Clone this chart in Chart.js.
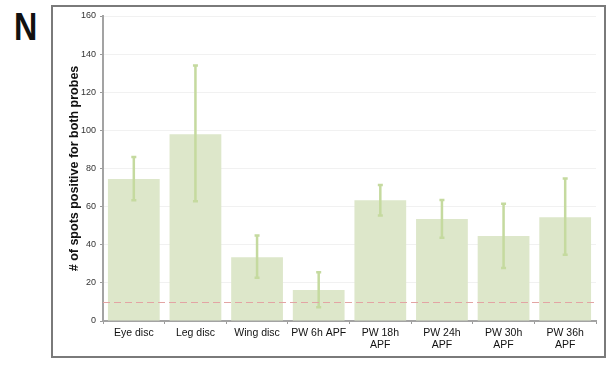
<!DOCTYPE html>
<html>
<head>
<meta charset="utf-8">
<script src="https://cdn.jsdelivr.net/npm/chart.js@4.4.1/dist/chart.umd.min.js"></script>
<style>
  html, body { margin: 0; padding: 0; background: #fff; }
  #wrap { position: relative; width: 609px; height: 367px; overflow: hidden; }
  #panel { position: absolute; left: 51px; top: 5px; width: 551px; height: 349px;
           border: 2px solid #7a7a7a; }
  #letter { position: absolute; left: 14px; top: 5px; font: bold 38px "Liberation Sans", Arial, sans-serif;
            line-height: 44px; color: #111; transform: scaleX(0.85); transform-origin: left top; }
  canvas { position: absolute; left: 0; top: 0; }
</style>
</head>
<body>
<div id="wrap">
  <div id="panel"></div>
  <div id="letter">N</div>
  <canvas id="c" width="609" height="367"></canvas>
</div>
<script>
// Tissues / pupal wing stages
const categories = [
  'Eye disc', 'Leg disc', 'Wing disc', 'PW 6h APF',
  ['PW 18h', 'APF'], ['PW 24h', 'APF'], ['PW 30h', 'APF'], ['PW 36h', 'APF']
];
// Mean number of double-positive spots
const meanSpots = [74.5, 98, 33.5, 16.3, 63.3, 53.5, 44.6, 54.4];
// Error bar limits
const errUpper = [86, 134, 44.8, 25.6, 71.4, 63.5, 61.5, 74.7];
const errLower = [63.3, 62.8, 22.7, 7.2, 55.3, 43.7, 27.8, 34.8];
// Background threshold (dashed line)
const threshold = 10;
const yTicks = [0, 20, 40, 60, 80, 100, 120, 140, 160];

const barColor = '#dde7ca';
const errColor = '#c5da9f';

const errorBarPlugin = {
  id: 'errorBars',
  afterDatasetsDraw(chart) {
    const ctx = chart.ctx;
    const y = chart.scales.y;
    const meta = chart.getDatasetMeta(0);
    ctx.save();
    ctx.strokeStyle = errColor;
    ctx.lineWidth = 2.5;
    meta.data.forEach((bar, i) => {
      const x = bar.x;
      const yHi = y.getPixelForValue(errUpper[i]);
      const yLo = y.getPixelForValue(errLower[i]);
      ctx.beginPath();
      ctx.moveTo(x, yHi); ctx.lineTo(x, yLo);
      ctx.moveTo(x - 2.5, yHi); ctx.lineTo(x + 2.5, yHi);
      ctx.moveTo(x - 2.5, yLo); ctx.lineTo(x + 2.5, yLo);
      ctx.stroke();
    });
    // threshold line
    const ty = Math.round(y.getPixelForValue(threshold)) + 0.5;
    ctx.strokeStyle = '#e3a4a4';
    ctx.lineWidth = 1;
    ctx.setLineDash([7, 4]);
    ctx.beginPath();
    ctx.moveTo(chart.chartArea.left, ty);
    ctx.lineTo(chart.chartArea.right, ty);
    ctx.stroke();
    ctx.restore();
  }
};

new Chart(document.getElementById('c'), {
  type: 'bar',
  data: {
    labels: categories,
    datasets: [{
      data: meanSpots,
      backgroundColor: barColor,
      borderWidth: 0,
      categoryPercentage: 1,
      barPercentage: 0.84
    }]
  },
  options: {
    responsive: false,
    animation: false,
    devicePixelRatio: 1,
    layout: { padding: { left: 55, top: 16, right: 13, bottom: 10 } },
    plugins: { legend: { display: false }, tooltip: { enabled: false } },
    scales: {
      x: {
        afterFit(s) { s.height = 36; },
        grid: { offset: true, drawOnChartArea: false, drawTicks: true, tickLength: 3, tickColor: '#9a9a9a' },
        border: { color: '#a3a3a3', width: 2 },
        ticks: { color: '#111', padding: 3, maxRotation: 0, autoSkip: false,
                 font: { family: '"Liberation Sans", Arial, sans-serif', size: 10.5, lineHeight: 1.12 } }
      },
      y: {
        min: 0, max: 160,
        afterFit(s) { s.width = 48; },
        afterBuildTicks(s) { s.ticks = yTicks.map(v => ({ value: v })); },
        grid: { color: '#f1f1f1', lineWidth: 1, tickLength: 3, tickColor: '#9a9a9a' },
        border: { color: '#a3a3a3', width: 2 },
        ticks: { color: '#333', padding: 4,
                 font: { family: '"Liberation Sans", Arial, sans-serif', size: 9 } },
        title: {
          display: true,
          text: '# of spots positive for both probes',
          color: '#111',
          padding: { top: 12, bottom: 0 },
          font: { family: '"Liberation Sans", Arial, sans-serif', size: 12.5, weight: 'bold' }
        }
      }
    }
  },
  plugins: [errorBarPlugin]
});
</script>
</body>
</html>
